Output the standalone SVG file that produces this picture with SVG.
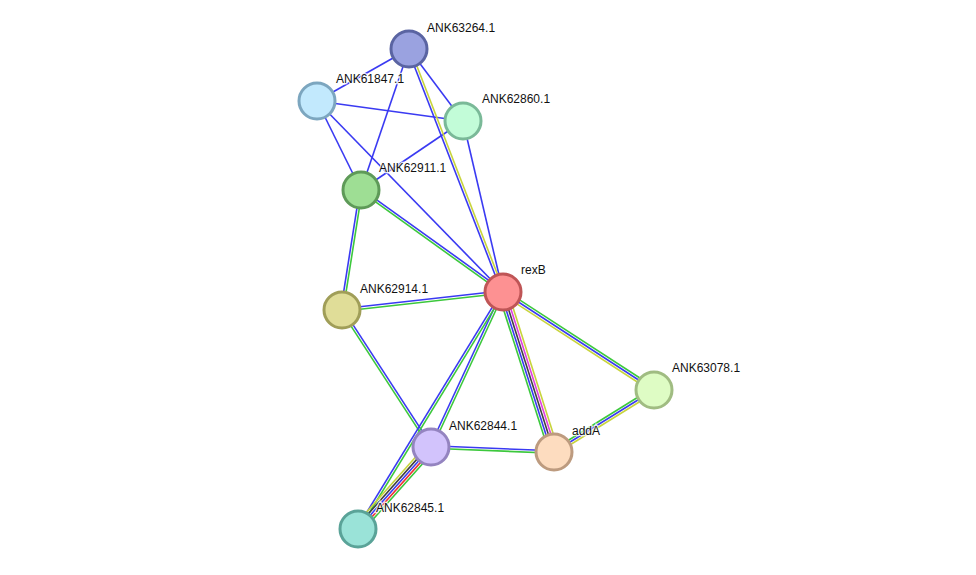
<svg xmlns="http://www.w3.org/2000/svg" width="976" height="575" viewBox="0 0 976 575">
<style>
.e line{stroke-width:1.6;fill:none}
.b{stroke:#3a3af2}
.g{stroke:#3cc83c}
.y{stroke:#c8d43c}
.k{stroke:#404040}
.m{stroke:#e040e0}
.r{stroke:#ee3434}
.n circle{stroke-width:3}
.n text{font-family:"Liberation Sans",Arial,sans-serif;font-size:12px;fill:#111;stroke:#fff;stroke-width:2.5;stroke-opacity:0.8;paint-order:stroke}
</style>
<rect width="976" height="575" fill="#fff"/>
<g id="edges" class="e">
<line class="b" x1="409" y1="49" x2="317" y2="101"/>
<line class="b" x1="409" y1="49" x2="463" y2="121"/>
<line class="b" x1="409" y1="49" x2="361" y2="190"/>
<line class="b" x1="317" y1="101" x2="463" y2="121"/>
<line class="b" x1="317" y1="101" x2="361" y2="190"/>
<line class="b" x1="317" y1="101" x2="503" y2="292"/>
<line class="b" x1="463" y1="121" x2="361" y2="190"/>
<line class="b" x1="463" y1="121" x2="503" y2="292"/>
<line class="b" x1="407.88" y1="49.43" x2="501.88" y2="292.43"/>
<line class="y" x1="410.12" y1="48.57" x2="504.12" y2="291.57"/>
<line class="b" x1="361.70" y1="189.03" x2="503.70" y2="291.03"/>
<line class="g" x1="360.30" y1="190.97" x2="502.30" y2="292.97"/>
<line class="b" x1="359.81" y1="189.81" x2="340.81" y2="309.81"/>
<line class="g" x1="362.19" y1="190.19" x2="343.19" y2="310.19"/>
<line class="b" x1="341.87" y1="308.81" x2="502.87" y2="290.81"/>
<line class="g" x1="342.13" y1="311.19" x2="503.13" y2="293.19"/>
<line class="g" x1="340.99" y1="310.65" x2="429.99" y2="447.65"/>
<line class="b" x1="343.01" y1="309.35" x2="432.01" y2="446.35"/>
<line class="b" x1="501.91" y1="291.49" x2="429.91" y2="446.49"/>
<line class="g" x1="504.09" y1="292.51" x2="432.09" y2="447.51"/>
<line class="b" x1="501.98" y1="291.37" x2="356.98" y2="528.37"/>
<line class="g" x1="504.02" y1="292.63" x2="359.02" y2="529.63"/>
<line class="b" x1="431.05" y1="445.80" x2="554.05" y2="450.80"/>
<line class="g" x1="430.95" y1="448.20" x2="553.95" y2="453.20"/>
<line class="g" x1="504.31" y1="289.99" x2="655.31" y2="387.99"/>
<line class="b" x1="503" y1="292" x2="654" y2="390"/>
<line class="y" x1="501.69" y1="294.01" x2="652.69" y2="392.01"/>
<line class="g" x1="552.74" y1="449.96" x2="652.74" y2="387.96"/>
<line class="b" x1="554" y1="452" x2="654" y2="390"/>
<line class="y" x1="555.26" y1="454.04" x2="655.26" y2="392.04"/>
<line class="g" x1="498.43" y1="293.46" x2="549.43" y2="453.46"/>
<line class="b" x1="500.71" y1="292.73" x2="551.71" y2="452.73"/>
<line class="k" x1="503" y1="292" x2="554" y2="452"/>
<line class="m" x1="505.29" y1="291.27" x2="556.29" y2="451.27"/>
<line class="y" x1="507.57" y1="290.54" x2="558.57" y2="450.54"/>
<line class="y" x1="427.41" y1="443.81" x2="354.41" y2="525.81"/>
<line class="k" x1="429.21" y1="445.40" x2="356.21" y2="527.40"/>
<line class="b" x1="431" y1="447" x2="358" y2="529"/>
<line class="r" x1="432.79" y1="448.60" x2="359.79" y2="530.60"/>
<line class="g" x1="434.59" y1="450.19" x2="361.59" y2="532.19"/>
</g>
<g id="ANK63264.1" class="n"><circle cx="409" cy="49" r="18" fill="#9aa2e0" stroke="#5a64a2"/><text x="427" y="32">ANK63264.1</text></g>
<g id="ANK61847.1" class="n"><circle cx="317" cy="101" r="18" fill="#c2e9fd" stroke="#7ca6bf"/><text x="336" y="83">ANK61847.1</text></g>
<g id="ANK62860.1" class="n"><circle cx="463" cy="121" r="18" fill="#c2fcd8" stroke="#7ab998"/><text x="482" y="103">ANK62860.1</text></g>
<g id="ANK62911.1" class="n"><circle cx="361" cy="190" r="18" fill="#9ede94" stroke="#5e9a58"/><text x="379" y="172">ANK62911.1</text></g>
<g id="rexB" class="n"><circle cx="503" cy="292" r="18" fill="#fd9192" stroke="#bf5556"/><text x="521" y="274">rexB</text></g>
<g id="ANK62914.1" class="n"><circle cx="342" cy="310" r="18" fill="#e0dd98" stroke="#a09e58"/><text x="360" y="293">ANK62914.1</text></g>
<g id="ANK63078.1" class="n"><circle cx="654" cy="390" r="18" fill="#defcc4" stroke="#a0bc82"/><text x="672" y="372">ANK63078.1</text></g>
<g id="ANK62844.1" class="n"><circle cx="431" cy="447" r="18" fill="#d2c3fc" stroke="#9484c0"/><text x="449" y="430">ANK62844.1</text></g>
<g id="addA" class="n"><circle cx="554" cy="452" r="18" fill="#fddcbf" stroke="#bd9b7f"/><text x="572" y="435">addA</text></g>
<g id="ANK62845.1" class="n"><circle cx="358" cy="529" r="18" fill="#9ae3d8" stroke="#5aa398"/><text x="376" y="512">ANK62845.1</text></g>
</svg>
